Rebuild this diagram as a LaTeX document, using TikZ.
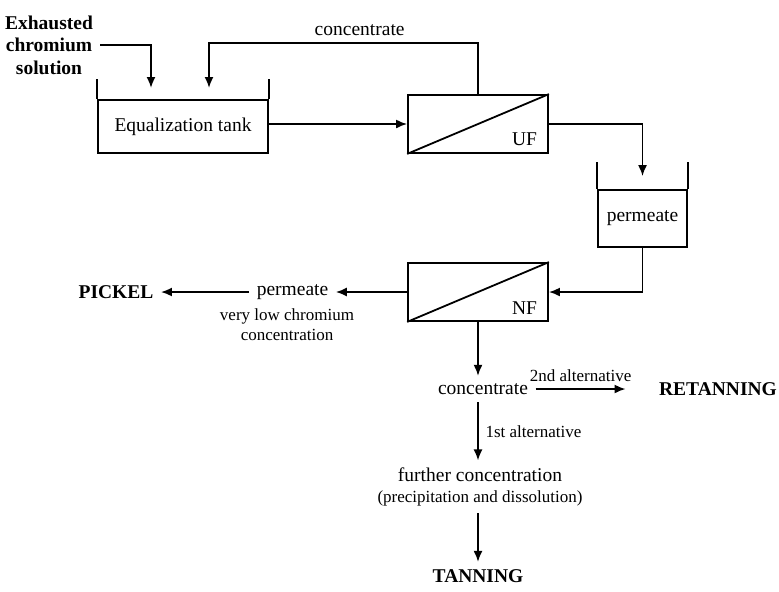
\documentclass[tikz,border=0pt]{standalone}
\usepackage{fontspec}
\setmainfont{Liberation Serif}
\usetikzlibrary{arrows.meta}

\tikzset{
    txt/.style={font=\fontsize{9.75}{11.25}\selectfont, align=center},
    note/.style={font=\fontsize{8.5}{10}\selectfont, align=center},
    sink/.style={font=\bfseries\fontsize{9.75}{11.25}\selectfont, align=center},
    membrane/.style={draw, txt, minimum width=70pt, minimum height=29pt},
}

\begin{document}
\begin{tikzpicture}[x=0.5pt, y=-0.5pt, line width=0.9pt, >={Latex[length=5.5pt,width=4.5pt]}]
            \useasboundingbox (0,0) rectangle (779,591);

            \node[sink] (src) at (49, 45) {Exhausted\\chromium\\solution};
            \node[draw, txt, minimum width=85pt, minimum height=26.5pt] (eq) at (183, 126.5) {Equalization tank};
            \node[membrane] (uf) at (478, 124) {};
            \node[draw, txt, minimum width=44.5pt, minimum height=28.5pt] (pmt) at (642.5, 218.5) {permeate};
            \node[membrane] (nf) at (478, 292) {};

            \node[txt] (perm) at (292.5, 292) {permeate};
            \node[note] (low) at (287, 325) {very low chromium\\concentration};
            \node[sink] (pickel) at (116, 292) {PICKEL};
            \node[txt] (conc) at (483, 389) {concentrate};
            \node[sink] (retan) at (718, 389) {RETANNING};
            \node[txt] (further) at (480, 475) {further concentration};
            \node[note] (precip) at (480, 498) {(precipitation and dissolution)};
            \node[sink] (tanning) at (478, 576) {TANNING};

            % membrane labels
            \node[txt, inner sep=0pt, anchor=south east] (uflbl) at ([shift={(-5.5pt,3.5pt)}]uf.south east) {UF};
            \node[txt, inner sep=0pt, anchor=south east] (nflbl) at ([shift={(-5.5pt,3.5pt)}]nf.south east) {NF};
            \draw (uf.south west) -- (uf.north east);
            \draw (nf.south west) -- (nf.north east);

            % tank walls
            \draw (eq.north west) -- ++(0,-20);
            \draw (eq.north east) -- ++(0,-20);
            \draw (pmt.north west) -- ++(0,-27);
            \draw (pmt.north east) -- ++(0,-27);

            % feed
            \coordinate (in1) at (151, 88);
            \draw[->] (src.east) -| (in1);

            % recycle
            \coordinate (top) at (209, 43);
            \coordinate (in2) at (209, 88);
            \draw[->] (uf.north) |- (top) node[txt, pos=0.72, above] (ucon) {concentrate} -- (in2);

            % tank - UF - permeate tank
            \draw[->] (uf.west -| eq.east) -- (uf.west);
            \draw[->] (uf.east) -| ([yshift=6.5pt]pmt.north);

            % permeate tank - NF
            \draw[->] (pmt.south) |- (nf.east);
            \draw[->] (nf.west) -- (perm.east);
            \draw[->] (perm.west) -- (pickel.east);

            % concentrate
            \draw[->] (nf.south) -- (nf.south |- conc.north);
            \draw[->] (conc.east) -- ([xshift=-13pt]retan.west) node[note, midway, above] (alt2) {2nd alternative};
            \draw[->] (nf.south |- conc.south) -- (nf.south |- further.north) node[note, midway, right] (alt1) {1st alternative};
            \draw[->] (nf.south |- precip.south) -- (nf.south |- tanning.north);
        \end{tikzpicture}
\end{document}
